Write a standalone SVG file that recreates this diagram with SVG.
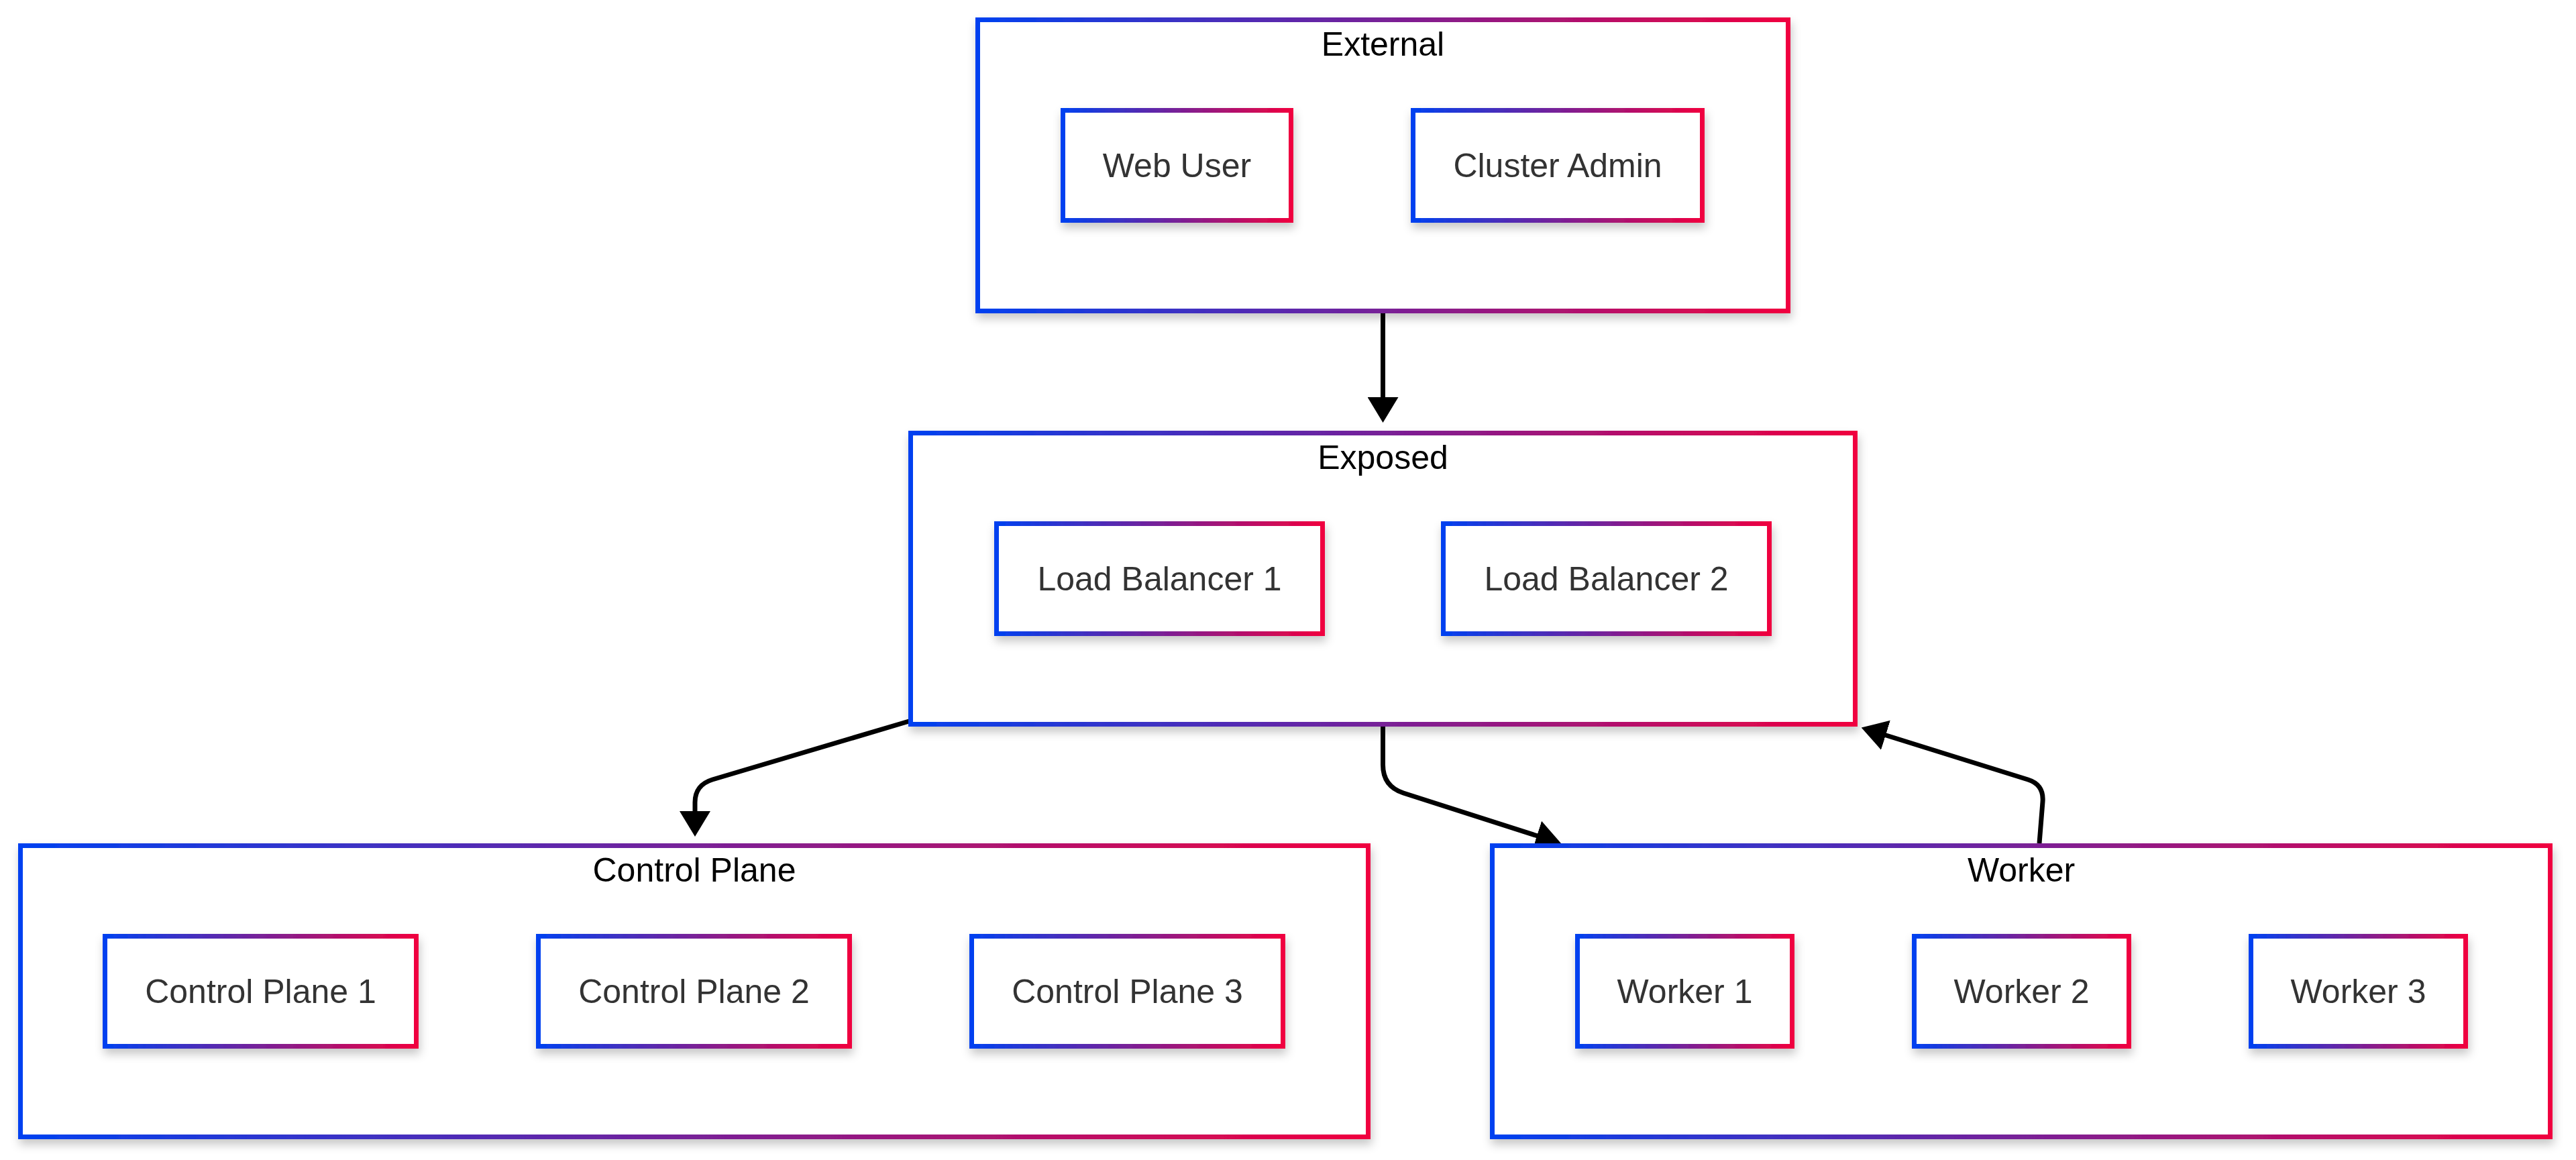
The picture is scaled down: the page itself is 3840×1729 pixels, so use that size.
<svg xmlns="http://www.w3.org/2000/svg" width="3840" height="1729" viewBox="0 0 3840 1729">
<style>
.box{fill:#ffffff;stroke:url(#grad);stroke-width:7;filter:url(#shadow);}
.title{font-family:"Liberation Sans",Arial,sans-serif;font-size:50px;fill:#000000;text-anchor:middle;}
.label{font-family:"Liberation Sans",Arial,sans-serif;font-size:50px;fill:#333333;text-anchor:middle;}
.edge{fill:none;stroke:#000000;stroke-width:7;marker-end:url(#arrow);}
</style>
<defs>
<linearGradient id="grad" x1="0" y1="0" x2="1" y2="0">
<stop offset="0" stop-color="#0041f0"/>
<stop offset="1" stop-color="#f0003f"/>
</linearGradient>
<filter id="shadow" x="-10%" y="-10%" width="120%" height="130%">
<feDropShadow dx="2" dy="8" stdDeviation="7" flood-color="#000000" flood-opacity="0.22"/>
</filter>
<marker id="arrow" viewBox="0 0 38 46" refX="1" refY="23" markerWidth="38" markerHeight="46" markerUnits="userSpaceOnUse" orient="auto">
<path d="M0,0 L38,23 L0,46 Z" fill="#000000"/>
</marker>
</defs>
<rect width="3840" height="1729" fill="#ffffff"/>
<g id="connectors">
<path class="edge" d="M2061.5,467 L2061.5,593"/>
<path class="edge" d="M1355,1075 L1062,1162 Q1036,1170 1036,1196 L1036,1210"/>
<path class="edge" d="M2061.5,1083 L2061.5,1140 Q2061.5,1172 2092,1182 L2292,1246"/>
<path class="edge" d="M3040,1257 L3045,1195 Q3047,1169.5 3023,1162 L2810,1095.5"/>
</g>
<g id="external">
<rect class="box" x="1457.5" y="29.5" width="1208" height="434"/>
<text class="title" x="2061.5" y="83">External</text>
</g>
<g id="web-user">
<rect class="box" x="1584.5" y="164.5" width="340" height="164"/>
<text class="label" x="1754.5" y="264">Web User</text>
</g>
<g id="cluster-admin">
<rect class="box" x="2106.5" y="164.5" width="431" height="164"/>
<text class="label" x="2322" y="264">Cluster Admin</text>
</g>
<g id="exposed">
<rect class="box" x="1357.5" y="645.5" width="1408" height="434"/>
<text class="title" x="2061.5" y="699">Exposed</text>
</g>
<g id="load-balancer-1">
<rect class="box" x="1485.5" y="780.5" width="486" height="164"/>
<text class="label" x="1728.5" y="880">Load Balancer 1</text>
</g>
<g id="load-balancer-2">
<rect class="box" x="2151.5" y="780.5" width="486" height="164"/>
<text class="label" x="2394.5" y="880">Load Balancer 2</text>
</g>
<g id="control-plane">
<rect class="box" x="30.5" y="1260.5" width="2009" height="434"/>
<text class="title" x="1035" y="1314">Control Plane</text>
</g>
<g id="control-plane-1">
<rect class="box" x="156.5" y="1395.5" width="464" height="164"/>
<text class="label" x="388.5" y="1495">Control Plane 1</text>
</g>
<g id="control-plane-2">
<rect class="box" x="802.5" y="1395.5" width="464" height="164"/>
<text class="label" x="1034.5" y="1495">Control Plane 2</text>
</g>
<g id="control-plane-3">
<rect class="box" x="1448.5" y="1395.5" width="464" height="164"/>
<text class="label" x="1680.5" y="1495">Control Plane 3</text>
</g>
<g id="worker">
<rect class="box" x="2224.5" y="1260.5" width="1577" height="434"/>
<text class="title" x="3013" y="1314">Worker</text>
</g>
<g id="worker-1">
<rect class="box" x="2351.5" y="1395.5" width="320" height="164"/>
<text class="label" x="2511.5" y="1495">Worker 1</text>
</g>
<g id="worker-2">
<rect class="box" x="2853.5" y="1395.5" width="320" height="164"/>
<text class="label" x="3013.5" y="1495">Worker 2</text>
</g>
<g id="worker-3">
<rect class="box" x="3355.5" y="1395.5" width="320" height="164"/>
<text class="label" x="3515.5" y="1495">Worker 3</text>
</g>
</svg>
